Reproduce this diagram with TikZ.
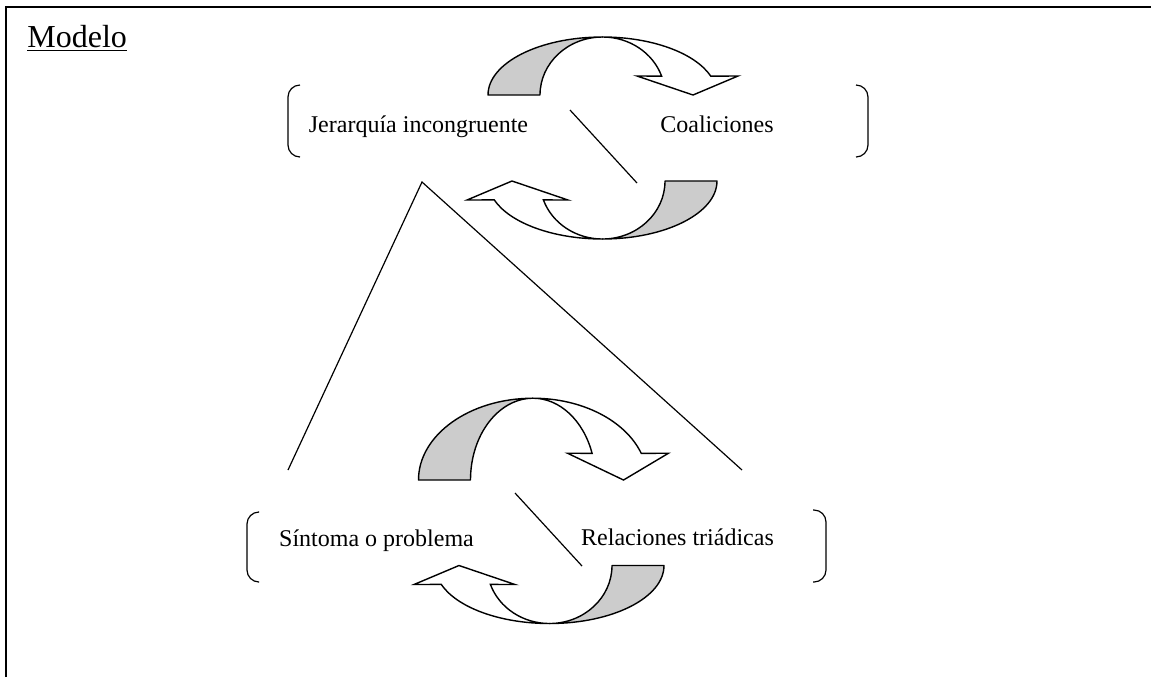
\documentclass[tikz,border=0pt]{standalone}
\usepackage{fontspec}
\setmainfont{Liberation Serif}
\usepackage{tikz}
\usetikzlibrary{positioning}

\tikzset{
  texto/.style={inner sep=0pt, anchor=base, font=\fontsize{12}{14}\selectfont},
  linea/.style={line width=0.6pt},
  corchete/.style={line width=0.6pt, rounded corners=6pt},
  giro/.pic={
    % parte gris (cara de atras)
    \filldraw[fill=black!20, line width=0.7pt, line join=round]
      (-114.5,0) arc[start angle=180, end angle=270, x radius=114.5, y radius=58]
      arc[start angle=270, end angle=180, x radius=62.5, y radius=58] -- cycle;
    % parte blanca con punta
    \filldraw[fill=white, line width=0.7pt, line join=miter]
      (0,-58) arc[start angle=270, end angle=341, x radius=114.5, y radius=58]
      -- (135.5,-19) -- (90.5,0) -- (34.5,-19) -- (59.1,-18.9)
      arc[start angle=341, end angle=270, x radius=62.5, y radius=58] -- cycle;
  }
}

\begin{document}
\begin{tikzpicture}[x=0.5pt, y=-0.5pt]
        \useasboundingbox (0,0) rectangle (1151,677);

        % Marco
        \draw[line width=1pt] (6,677) -- (6,7) -- (1151,7);
        \node[inner sep=0pt, anchor=base west, font=\fontsize{16}{19}\selectfont] (modelo) at (27,47) {\underline{Modelo}};

        % Grupo de arriba
        \pic at (602.5,95) {giro};
        \pic[rotate=180] at (602.5,181) {giro};
        \node[texto] (jerarquia) at (418.5,132) {Jerarquía incongruente};
        \node[texto] (coaliciones) at (717,132) {Coaliciones};
        \draw[corchete] (300,85) -- (288,85) -- (288,157) -- (300,157);
        \draw[corchete] (856,85) -- (868,85) -- (868,157) -- (856,157);
        \coordinate (diagA1) at (570,110);
        \coordinate (diagA2) at (637,183);
        \draw[linea] (diagA1) -- (diagA2);

        % Grupo de abajo
        \pic[yscale=1.41] at (533,480) {giro};
        \pic[rotate=180] at (549.5,565.5) {giro};
        \node[texto] (sintoma) at (376.5,546) {Síntoma o problema};
        \node[texto] (triadicas) at (677.5,545) {Relaciones triádicas};
        \draw[corchete] (258,512) -- (247,512) -- (247,582) -- (258,582);
        \draw[corchete] (813,510) -- (826,510) -- (826,582) -- (813,582);
        \coordinate (diagB1) at (515,493);
        \coordinate (diagB2) at (582,566);
        \draw[linea] (diagB1) -- (diagB2);

        % Triangulo
        \coordinate (vertice) at (422,182);
        \coordinate (pataIzq) at (288,470);
        \coordinate (pataDer) at (742,470);
        \draw[linea] (pataIzq) -- (vertice) -- (pataDer);
    \end{tikzpicture}
\end{document}
